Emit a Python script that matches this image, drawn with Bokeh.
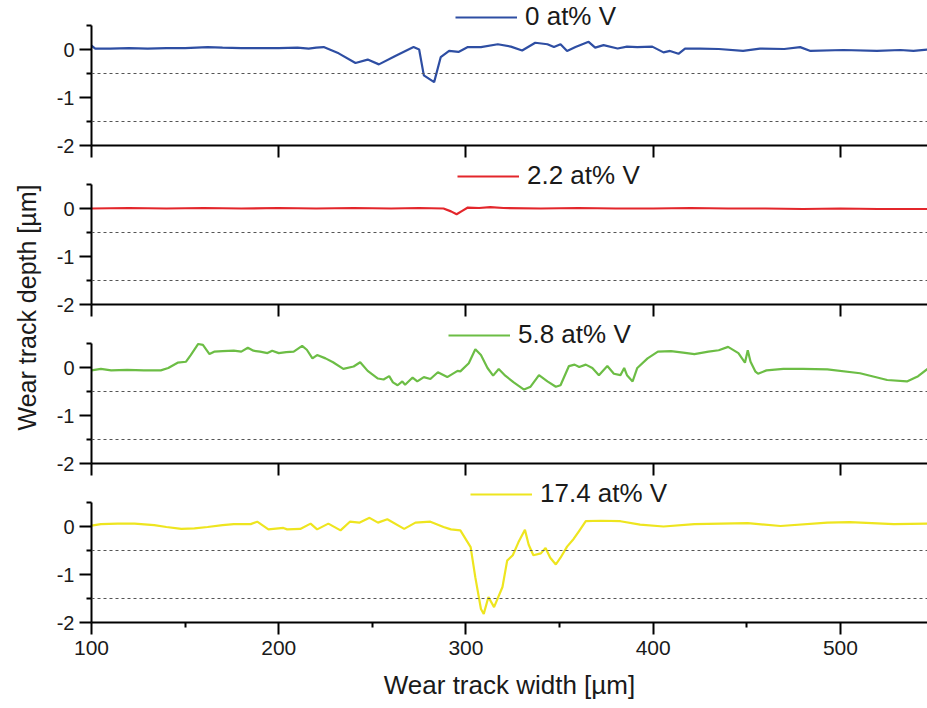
import math
from bokeh.plotting import figure
from bokeh.layouts import row, column
from bokeh.models import Range1d, FixedTicker, Span, Legend, LegendItem, Label
from bokeh.embed import file_html
from bokeh.resources import INLINE

# ---------------- data ----------------
labels = ["0 at% V", "2.2 at% V", "5.8 at% V", "17.4 at% V"]
colors = ["#2e4ea3", "#e3262b", "#6cbd45", "#eee51f"]

x_ticks = [100, 200, 300, 400, 500]
x_minor = [150, 250, 350, 450]
y_ticks = [-2, -1, 0]
y_tick_labels = ["-2", "-1", "0"]
y_minor = [-1.5, -0.5, 0.5]
ref_levels = [-0.5, -1.5]

x0 = [100, 102, 110, 120, 130, 140, 150, 162, 170, 180, 190, 200, 210, 216, 220, 224,
      232, 241, 247.5, 253.5, 262, 272, 275, 277.5, 283, 286.5, 291, 296, 301, 308, 317,
      324, 330, 337, 343.5, 347, 350.5, 354, 358.5, 365.5, 369, 373.5, 381, 386, 391.5,
      399.5, 405.5, 409, 413.5, 417, 425, 435, 448, 457, 470, 478.5, 484, 501.5, 519.5,
      532, 539, 546.5]
y0 = [0.08, 0.02, 0.02, 0.03, 0.02, 0.03, 0.03, 0.05, 0.04, 0.03, 0.03, 0.03, 0.04, 0.02, 0.04, 0.05,
      -0.08, -0.28, -0.21, -0.31, -0.14, 0.05, 0.0, -0.54, -0.68, -0.16, -0.03, -0.05, 0.05, 0.05, 0.11,
      0.06, -0.02, 0.14, 0.11, 0.05, 0.11, -0.03, 0.05, 0.16, 0.04, 0.09, 0.02, 0.06, 0.05,
      0.06, -0.06, -0.03, -0.09, 0.02, 0.02, 0.01, -0.03, 0.02, 0.01, 0.05, -0.03, -0.01, -0.03,
      -0.01, -0.03, 0.0]

x1 = [100, 120, 140, 160, 180, 200, 220, 240, 260, 275, 288, 292, 295, 298, 301, 307, 313,
      320, 340, 360, 380, 400, 420, 440, 460, 480, 500, 520, 546.5]
y1 = [0.0, 0.01, 0.0, 0.01, 0.0, 0.01, 0.0, 0.01, 0.0, 0.01, 0.0, -0.06, -0.12, -0.05, 0.02, 0.01, 0.03,
      0.01, 0.0, 0.01, 0.0, 0.0, 0.01, 0.0, 0.0, -0.01, 0.0, -0.01, -0.01]

x2 = [100, 105, 110.5, 119, 128, 137, 141, 146, 150.5, 153, 157, 159.5, 163, 165.5, 170, 176, 180,
      183.5, 186.5, 190, 194, 196.5, 200, 204, 208, 212.5, 215, 218, 220.5, 225, 229, 234.5, 240,
      243.5, 247.5, 253, 256, 259, 261, 263.5, 266, 267.5, 271.5, 274, 277.5, 281, 285, 290, 295.5,
      297, 301.5, 305, 308, 311.5, 314.5, 317.5, 321, 325.5, 331, 334.5, 339, 343.5, 348, 350.5,
      355, 358, 360.5, 364, 367.5, 371, 375.5, 379, 382.5, 384.5, 386, 389, 391.5, 397, 402.5,
      409.5, 416, 422, 429.5, 435, 440, 445.5, 449, 450.5, 452, 454.5, 456, 460.5, 469.5, 480,
      493, 510.5, 525, 535.5, 541.5, 546.5]
y2 = [-0.06, -0.03, -0.06, -0.05, -0.06, -0.06, -0.01, 0.10, 0.12, 0.26, 0.49, 0.47, 0.28, 0.33, 0.34, 0.35, 0.33,
      0.41, 0.35, 0.33, 0.30, 0.35, 0.30, 0.32, 0.33, 0.45, 0.37, 0.19, 0.26, 0.19, 0.11, -0.03, 0.02,
      0.11, -0.07, -0.23, -0.25, -0.18, -0.31, -0.37, -0.29, -0.36, -0.21, -0.29, -0.20, -0.24, -0.10, -0.20, -0.07,
      -0.08, 0.09, 0.38, 0.26, -0.01, -0.17, -0.03, -0.17, -0.31, -0.46, -0.40, -0.16, -0.29, -0.40, -0.37,
      0.03, 0.06, 0.01, 0.06, -0.01, -0.16, 0.03, -0.13, -0.16, -0.01, -0.16, -0.29, -0.01, 0.19, 0.33,
      0.34, 0.31, 0.28, 0.33, 0.36, 0.43, 0.30, 0.10, 0.36, 0.12, -0.08, -0.13, -0.06, -0.03, -0.03,
      -0.04, -0.12, -0.26, -0.29, -0.18, -0.03]

x3 = [100, 105, 114, 123, 133.5, 140, 148, 155, 162, 170, 176, 185, 188.5, 194.5, 202.5, 204.5,
      211.5, 217, 220.5, 226.5, 233, 238, 243, 248.5, 253, 258, 267, 273, 281, 288, 292, 297,
      302.5, 305, 308, 309.5, 312, 315, 319.5, 322, 325, 328, 331.5, 333.5, 336, 340, 342.5, 345,
      348, 350.5, 354, 357.5, 360.5, 364, 372, 382.5, 393, 405.5, 422, 450.5, 468, 493, 505,
      528.5, 546.5]
y3 = [0.02, 0.05, 0.06, 0.06, 0.03, -0.01, -0.05, -0.04, -0.01, 0.03, 0.05, 0.05, 0.10, -0.06, -0.03, -0.06,
      -0.05, 0.06, -0.06, 0.06, -0.08, 0.10, 0.08, 0.18, 0.08, 0.15, -0.05, 0.08, 0.10, -0.01, -0.06, -0.08,
      -0.43, -1.06, -1.72, -1.82, -1.47, -1.68, -1.26, -0.71, -0.60, -0.33, -0.07, -0.38, -0.60, -0.56, -0.45, -0.65,
      -0.79, -0.65, -0.42, -0.26, -0.09, 0.11, 0.12, 0.11, 0.04, 0.00, 0.05, 0.07, 0.01, 0.08, 0.09,
      0.05, 0.06]

series_x = [x0, x1, x2, x3]
series_y = [y0, y1, y2, y3]

# ---------------- layout / styling ----------------
FONT = "Liberation Sans"
TXT = "#1a1a1a"
legend_x = [364, 366, 357, 379]
xr = Range1d(100, 546.5)

panels = []
for i in range(4):
    bottom = (i == 3)
    p = figure(width=882, height=231 if bottom else 159,
               x_range=xr, y_range=Range1d(-2, 0.5 + 25 / 48),
               output_backend="svg", toolbar_location=None,
               min_border_left=46, min_border_right=0, min_border_top=0,
               min_border_bottom=86 if bottom else 14)
    p.outline_line_color = None
    p.xgrid.visible = False
    p.ygrid.visible = False
    p.background_fill_color = "white"
    p.border_fill_color = "white"

    for lvl in ref_levels:
        p.add_layout(Span(location=lvl, dimension="width", line_color="#555555",
                          line_width=1.2, line_dash="3 3"))

    r = p.line(series_x[i], series_y[i], line_color=colors[i], line_width=2.2)

    # x axis
    xa = p.xaxis[0]
    xa.axis_line_width = 2
    xa.axis_line_color = "black"
    xa.major_tick_line_width = 2
    xa.major_tick_line_color = "black"
    xa.major_tick_in = 0
    xa.major_tick_out = 12
    xa.minor_tick_line_width = 2
    xa.minor_tick_line_color = "black"
    xa.minor_tick_in = 0
    if bottom:
        xa.ticker = FixedTicker(ticks=x_ticks, minor_ticks=x_minor)
        xa.minor_tick_out = 5
        xa.major_label_text_font = FONT
        xa.major_label_text_font_size = "21px"
        xa.major_label_text_color = TXT
        xa.major_label_standoff = 6
        xa.axis_label = "Wear track width [µm]"
        xa.axis_label_text_font = FONT
        xa.axis_label_text_font_size = "26px"
        xa.axis_label_text_font_style = "normal"
        xa.axis_label_text_color = TXT
        xa.axis_label_standoff = 12
    else:
        # unlabeled panels: ticks drawn as (label-free) minor ticks
        xa.ticker = FixedTicker(ticks=[], minor_ticks=x_ticks)
        xa.minor_tick_out = 12
        xa.major_label_standoff = 0

    # y axis
    ya = p.yaxis[0]
    ya.ticker = FixedTicker(ticks=y_ticks, minor_ticks=y_minor)
    ya.major_label_overrides = {t: s for t, s in zip(y_ticks, y_tick_labels)}
    ya.bounds = (-2, 0.5)
    ya.axis_line_width = 2
    ya.axis_line_color = "black"
    ya.major_tick_line_width = 2
    ya.major_tick_line_color = "black"
    ya.major_tick_in = 0
    ya.major_tick_out = 12
    ya.minor_tick_line_width = 2
    ya.minor_tick_line_color = "black"
    ya.minor_tick_in = 0
    ya.minor_tick_out = 5
    ya.major_label_text_font = FONT
    ya.major_label_text_font_size = "20px"
    ya.major_label_text_color = TXT
    ya.major_label_standoff = 5

    leg = Legend(items=[LegendItem(label=labels[i], renderers=[r])],
                 location=(legend_x[i], 113),
                 border_line_color=None, background_fill_alpha=0,
                 padding=0, margin=0, spacing=0,
                 glyph_width=62, glyph_height=26, label_height=26,
                 label_standoff=8, label_text_font=FONT,
                 label_text_font_size="26px", label_text_color=TXT)
    p.add_layout(leg)
    panels.append(p)

# y-axis title in a narrow side figure
side = figure(width=45, height=708, x_range=Range1d(0, 45), y_range=Range1d(0, 708),
              output_backend="svg", toolbar_location=None,
              x_axis_type=None, y_axis_type=None, min_border=0)
side.outline_line_color = None
side.xgrid.visible = False
side.ygrid.visible = False
side.add_layout(Label(x=26, y=708 - 307, text="Wear track depth [µm]", angle=math.pi / 2,
                      text_align="center", text_baseline="middle",
                      text_font=FONT, text_font_size="25px", text_color=TXT))

layout = row(side, column(*panels, spacing=0), spacing=0)
open("out.html", "w").write(file_html(layout, INLINE))
